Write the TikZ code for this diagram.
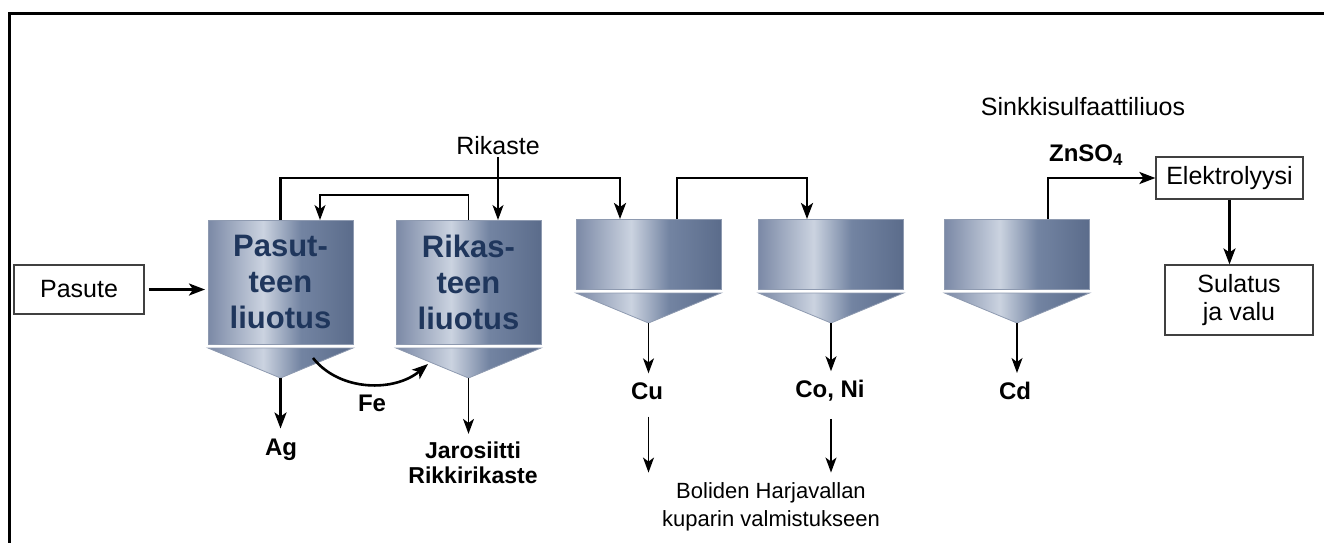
\documentclass[tikz,border=0pt]{standalone}
\usepackage{fontspec}
\setmainfont{Liberation Sans}
\usetikzlibrary{arrows.meta,calc}

% tank colours
\definecolor{tkL}{HTML}{7B89A6}
\definecolor{tkH}{HTML}{CBD3E0}
\definecolor{tkM}{HTML}{7384A2}
\definecolor{tkR}{HTML}{5B6C8B}
\definecolor{tkEdge}{HTML}{8E9AB0}
\definecolor{tkText}{HTML}{1F365C}
\definecolor{boxEdge}{HTML}{404040}

% metallic left-to-right shading of the tanks
\pgfdeclarehorizontalshading{tankshade}{100bp}{%
  color(0bp)=(tkL); color(25bp)=(tkL); color(44bp)=(tkH);
  color(57bp)=(tkM); color(75bp)=(tkR); color(100bp)=(tkR)}

\begin{document}
\begin{tikzpicture}[x=1pt,y=-1pt,
  tankbody/.style={shading=tankshade, draw=tkEdge, line width=0.8pt,
    inner sep=0pt, outer sep=0pt, minimum width=145pt},
  tanklabel/.style={font=\fontsize{31}{36}\selectfont\bfseries,
    text=tkText, align=center},
  cone/.style={shading=tankshade, draw=tkEdge, line width=0.8pt},
  flowbox/.style={draw=boxEdge, line width=1.2pt, inner sep=0pt,
    font=\fontsize{25}{28}\selectfont, align=center},
  lbl/.style={inner sep=0pt, font=\fontsize{25}{28}\selectfont, align=center},
  blbl/.style={inner sep=0pt, font=\fontsize{24}{25}\selectfont\bfseries, align=center},
  thickflow/.style={line width=2.6pt, -{Stealth[length=16pt,width=12pt,inset=4pt]}},
  thinflow/.style={line width=1.4pt, -{Stealth[length=15pt,width=11pt,inset=4pt]}}
]
\useasboundingbox (0,0) rectangle (1324,542);

% frame
\draw[line width=3pt] (9,545) -- (9,13) -- (1327,13);

% tanks
\node[tankbody, minimum height=124pt, tanklabel] (t1) at (280.5,282) {Pasut-\\teen\\liuotus};
\node[tankbody, minimum height=124pt, tanklabel] (t2) at (468.5,282) {Rikas-\\teen\\liuotus};
\node[tankbody, minimum height=70pt] (t3) at (648.5,254) {};
\node[tankbody, minimum height=70pt] (t4) at (831,254) {};
\node[tankbody, minimum height=70pt] (t5) at (1017,254) {};

% conical bottoms
\foreach \t in {t1,t2,t3,t4,t5}{
  \coordinate (apex-\t) at ($(\t.south)+(0,34)$);
  \path[cone] ([yshift=-4pt]\t.south west) -- ([yshift=-4pt]\t.south east)
    -- (apex-\t) -- cycle;
}

% boxes
\node[flowbox, minimum width=130pt, minimum height=49pt] (pasute) at (79,289.5) {Pasute};
\node[flowbox, minimum width=147pt, minimum height=42pt] (elek) at (1229.5,178) {Elektrolyysi};
\node[flowbox, minimum width=148pt, minimum height=70pt] (sul) at (1239,300) {Sulatus\\ja valu};

% labels
\node[lbl] (rikaste) at (498,146) {Rikaste};
\node[lbl] (sinkki) at (1083,107) {Sinkkisulfaattiliuos};
\node[blbl] (znso) at (1086,155) {ZnSO\textsubscript{4}};
\node[blbl] (ag) at (281,449.5) {Ag};
\node[blbl] (fe) at (372,403.5) {Fe};
\node[blbl, font=\fontsize{23}{25}\selectfont\bfseries] (jaro) at (473,463) {Jarosiitti\\Rikkirikaste};
\node[blbl] (cu) at (647,391) {Cu};
\node[blbl] (coni) at (830,391) {Co, Ni};
\node[blbl] (cd) at (1015,391) {Cd};
\node[lbl, font=\fontsize{22}{28}\selectfont] (boliden) at (771,507) {Boliden Harjavallan\\kuparin valmistukseen};

% inlet and outlet points on the tank tops
\coordinate (t1in) at ([xshift=39.5pt]t1.north);
\coordinate (t2in) at ([xshift=29.5pt]t2.north);
\coordinate (t3in) at ([xshift=-28.5pt]t3.north);
\coordinate (t3out) at ([xshift=28.5pt]t3.north);
\coordinate (t4in) at ([xshift=-24pt]t4.north);
\coordinate (t5out) at ([xshift=31pt]t5.north);
\coordinate (fefrom) at (313,358);
\coordinate (feto) at (428,364);

% flows between the tanks
\draw[thickflow] (t1.north) -- ++(0,-42) -| (t3in);
\draw[thinflow] (t2.north) -- ++(0,-25) -| (t1in);
\draw[thinflow, shorten <=2pt] (rikaste.south) -- (t2in);
\draw[thickflow] (t3out) -- ++(0,-41) -| (t4in);
\draw[thickflow] (t5out) |- (elek.west);
\draw[thickflow] (elek.south) -- (elek.south |- sul.north);
\draw[thickflow, shorten <=4pt, shorten >=3pt] (pasute.east) -- (pasute.east -| t1.west);
\draw[thickflow] (fefrom) .. controls (340,392) and (395,392) .. (feto);

% outflows from the cones
\draw[thickflow, shorten >=10pt] (apex-t1) -- (apex-t1 |- ag.north);
\draw[thinflow, shorten >=8pt] (apex-t2) -- (apex-t2 |- jaro.north);
\draw[thinflow, shorten >=9pt] (apex-t3) -- (apex-t3 |- cu.north);
\draw[thinflow, shorten >=9pt] (apex-t4) -- (apex-t4 |- coni.north);
\draw[thinflow, shorten >=9pt] (apex-t5) -- (apex-t5 |- cd.north);
\draw[thinflow, shorten <=17pt, shorten >=10pt] (apex-t3 |- cu.south) -- (apex-t3 |- boliden.north);
\draw[thinflow, shorten <=17pt, shorten >=10pt] (apex-t4 |- coni.south) -- (apex-t4 |- boliden.north);
\end{tikzpicture}
\end{document}
